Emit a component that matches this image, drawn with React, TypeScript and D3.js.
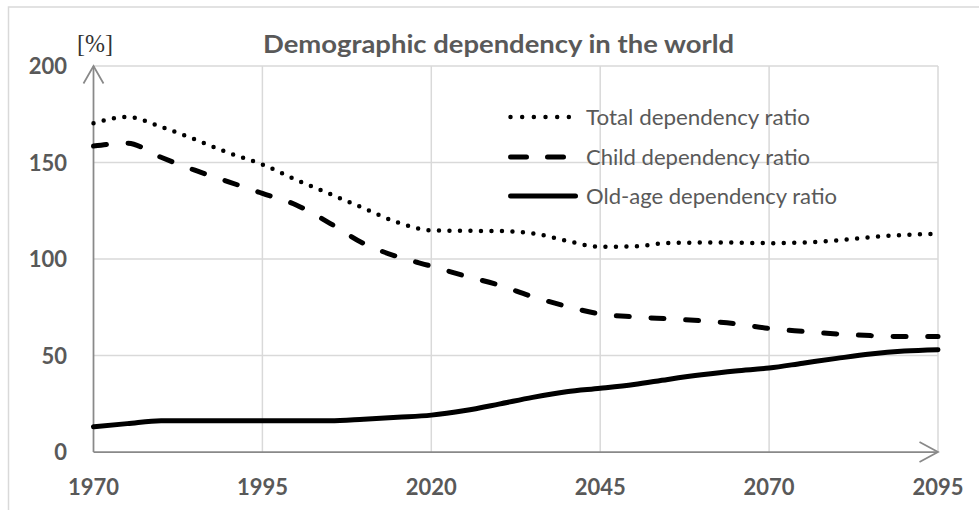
import React from 'react';
import * as d3 from 'd3';

const years = [1970, 1975, 1980, 1985, 1990, 1995, 2000, 2005, 2010, 2015, 2020, 2025, 2030, 2035, 2040, 2045, 2050, 2055, 2060, 2065, 2070, 2075, 2080, 2085, 2090, 2095];
const totalRatio = [170.3, 173.6, 168.5, 162, 155, 149, 141, 133.7, 126.3, 119, 114.8, 114.6, 114.5, 113.3, 109.5, 106.3, 106.5, 108.3, 108.5, 108.5, 108.2, 108.5, 109.6, 111.3, 112.5, 113];
const childRatio = [158.5, 160, 152.7, 146, 140, 134, 128, 118.5, 108, 101.2, 96.3, 91.2, 86.5, 80.5, 75.5, 71.5, 70, 69, 68, 66.5, 64, 62.5, 61.2, 60.3, 59.8, 59.8];
const oldAgeRatio = [13.1, 14.7, 16.2, 16.2, 16.2, 16.2, 16.2, 16.2, 17, 18, 19.1, 21.5, 24.8, 28.3, 31.2, 33, 35, 37.6, 40, 42, 43.5, 46, 48.5, 50.8, 52.3, 53];
const xTicks = [1970, 1995, 2020, 2045, 2070, 2095];
const yTicks = [0, 50, 100, 150, 200];
const legendLabels = ['Total dependency ratio', 'Child dependency ratio', 'Old-age dependency ratio'];
const chartTitle = 'Demographic dependency in the world';
const unitLabel = '[%]';

const W = 979;
const H = 510;
const GRID = '#d9d9d9';
const AXIS = '#898989';
const TEXT = '#595959';
const FONT = 'Lato, "Open Sans", sans-serif';

export default function App() {
  const x = d3.scaleLinear().domain([1970, 2095]).range([93.5, 938]);
  const y = d3.scaleLinear().domain([0, 200]).range([452, 66]);
  const line = (vals: number[]) =>
    d3
      .line<number>()
      .x((_, i) => x(years[i]))
      .y((v) => y(v))
      .curve(d3.curveMonotoneX)(vals) || '';

  const series = [
    { vals: totalRatio, dash: '0 10.5', width: 4.5, legendDash: '0 11.67' },
    { vals: childRatio, dash: '13 21.7', width: 5, legendDash: '16 21' },
    { vals: oldAgeRatio, dash: undefined, width: 5, legendDash: undefined },
  ];
  const legendY = [117, 157, 196];
  const legendEnd = [578, 566, 578];
  const legendTextLen = [224, 224, 251];
  const x0 = x(1970);
  const x1 = x(2095);
  const y0 = y(0);
  const yTop = y(200);

  return (
    <svg width={W} height={H} style={{ position: 'absolute', left: 0, top: 0, background: '#fff' }}>
      <rect x={8.5} y={7} width={W + 10} height={H + 10} fill="#fff" stroke={GRID} strokeWidth={1.5} />
      {/* gridlines */}
      {yTicks.filter((t) => t > 0).map((t) => (
        <line key={'h' + t} x1={x0} x2={x1} y1={y(t)} y2={y(t)} stroke={GRID} strokeWidth={1.5} />
      ))}
      {xTicks.filter((t) => t > 1970).map((t) => (
        <line key={'v' + t} x1={x(t)} x2={x(t)} y1={yTop} y2={y0} stroke={GRID} strokeWidth={1.5} />
      ))}
      {/* axes with arrows */}
      <line x1={x0} x2={x0} y1={y0} y2={yTop} stroke={AXIS} strokeWidth={1.75} />
      <polyline points={`${x0 - 10},${yTop + 17.5} ${x0},${yTop} ${x0 + 10},${yTop + 17.5}`} fill="none" stroke={AXIS} strokeWidth={1.75} />
      <line x1={x0} x2={x1} y1={y0} y2={y0} stroke={AXIS} strokeWidth={1.75} />
      <polyline points={`${x1 - 18.5},${y0 - 10} ${x1},${y0} ${x1 - 18.5},${y0 + 10}`} fill="none" stroke={AXIS} strokeWidth={1.75} />
      {/* tick labels */}
      {yTicks.map((t) => (
        <text key={'yl' + t} x={67} y={y(t) + 8} textAnchor="end" fontFamily={FONT} fontWeight="bold" fontSize={22} fill={TEXT}>
          {t}
        </text>
      ))}
      {xTicks.map((t) => (
        <text key={'xl' + t} x={x(t)} y={494.5} textAnchor="middle" fontFamily={FONT} fontWeight="bold" fontSize={22} fill={TEXT}>
          {t}
        </text>
      ))}
      <text x={77} y={52} fontFamily='"Liberation Serif", "Times New Roman", serif' fontSize={25} fill="#333" textLength={36} lengthAdjust="spacingAndGlyphs">
        {unitLabel}
      </text>
      <text x={498.5} y={53.3} textAnchor="middle" fontFamily={FONT} fontWeight="bold" fontSize={25} fill={TEXT} textLength={471} lengthAdjust="spacingAndGlyphs">
        {chartTitle}
      </text>
      {/* series */}
      {series.map((s, i) => (
        <path key={'s' + i} d={line(s.vals)} fill="none" stroke="#000" strokeWidth={s.width} strokeDasharray={s.dash} strokeLinecap="round" strokeLinejoin="round" />
      ))}
      {/* legend */}
      {series.map((s, i) => (
        <g key={'lg' + i}>
          <line x1={510.5} x2={legendEnd[i] - 2.5} y1={legendY[i]} y2={legendY[i]} stroke="#000" strokeWidth={s.width} strokeDasharray={s.legendDash} strokeLinecap="round" />
          <text x={586} y={legendY[i] + 7.5} fontFamily={FONT} fontSize={21} fill={TEXT} textLength={legendTextLen[i]} lengthAdjust="spacingAndGlyphs">
            {legendLabels[i]}
          </text>
        </g>
      ))}
    </svg>
  );
}
